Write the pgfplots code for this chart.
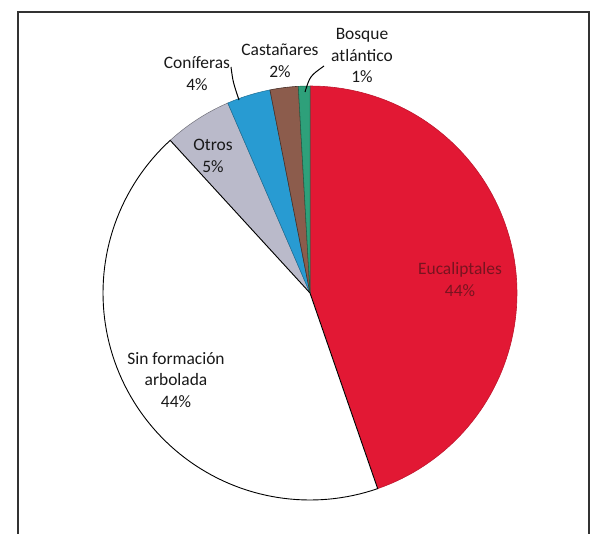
\documentclass[border=0pt]{standalone}
\usepackage{pgfplots}
\pgfplotsset{compat=1.18}
\usepackage{fontspec}
\setmainfont{Carlito}
\definecolor{cEuc}{RGB}{226,24,52}
\definecolor{cOtr}{RGB}{186,186,202}
\definecolor{cCon}{RGB}{40,155,210}
\definecolor{cCas}{RGB}{140,92,76}
\definecolor{cBos}{RGB}{46,160,122}
\definecolor{cEucTxt}{RGB}{120,20,32}
\tikzset{lbl/.style={font=\fontsize{17.5}{22}\selectfont, align=center, inner sep=0pt, text=black!90}}
\begin{document}
\begin{tikzpicture}
\useasboundingbox (0,0) rectangle (598bp,534bp);
\begin{axis}[
  at={(0,0)}, anchor=south west,
  scale only axis, width=598bp, height=534bp,
  xmin=0, xmax=598, ymin=0, ymax=534, y dir=reverse,
  hide axis, clip=false,
  samples=90,
]
% frame
\draw[line width=1.4pt, black!80] (axis cs:18,534) -- (axis cs:18,12) -- (axis cs:589,12) -- (axis cs:589,534);
% slices (cumulative percent: Eucaliptales 44.7, Sin formacion 43.5, Otros 5.3, Coniferas 3.4, Castanares 2.2, Bosque atlantico 0.9)
\addplot[fill=cEuc, draw=cEuc!85!black, line width=0.6pt, domain=0:44.7]
  ({310+207*sin(3.6*x)},{293-207*cos(3.6*x)}) -- (axis cs:310,293) -- cycle;
\addplot[fill=cOtr, draw=cOtr!60!black, line width=0.5pt, domain=88.2:93.5]
  ({310+207*sin(3.6*x)},{293-207*cos(3.6*x)}) -- (axis cs:310,293) -- cycle;
\addplot[fill=cCon, draw=cCon!70!black, line width=0.5pt, domain=93.5:96.9]
  ({310+207*sin(3.6*x)},{293-207*cos(3.6*x)}) -- (axis cs:310,293) -- cycle;
\addplot[fill=cCas, draw=cCas!50!black, line width=0.6pt, domain=96.9:99.1]
  ({310+207*sin(3.6*x)},{293-207*cos(3.6*x)}) -- (axis cs:310,293) -- cycle;
\addplot[fill=cBos, draw=cBos!60!black, line width=0.5pt, domain=99.1:100]
  ({310+207*sin(3.6*x)},{293-207*cos(3.6*x)}) -- (axis cs:310,293) -- cycle;
\addplot[fill=white, draw=black, line width=0.9pt, domain=44.7:88.2]
  ({310+207*sin(3.6*x)},{293-207*cos(3.6*x)}) -- (axis cs:310,293) -- cycle;
% leader lines
\draw[black, line width=1pt] (axis cs:231,67) .. controls (axis cs:233,82) .. (axis cs:239,100);
\draw[black, line width=1pt] (axis cs:324,66) .. controls (axis cs:310,76) .. (axis cs:305,92);
% labels
\node[lbl] at (axis cs:362,55.5) {Bosque\\atlántico\\1\%};
\node[lbl] at (axis cs:280,61) {Castañares\\2\%};
\node[lbl] at (axis cs:197,73.5) {Coníferas\\4\%};
\node[lbl] at (axis cs:213,156) {Otros\\5\%};
\node[lbl] at (axis cs:176,380) {Sin formación\\arbolada\\44\%};
\node[lbl, text=cEucTxt] at (axis cs:460,279.5) {Eucaliptales\\44\%};
\end{axis}
\end{tikzpicture}
\end{document}
